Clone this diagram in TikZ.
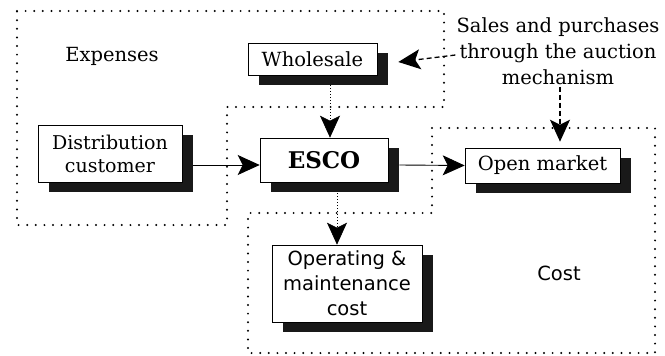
\documentclass[tikz,border=0pt]{standalone}
\usepackage{fontspec}
\setmainfont{DejaVu Serif}
\setsansfont{DejaVu Sans}
\usetikzlibrary{shadows,arrows.meta,calc}
\begin{document}
\begin{tikzpicture}[x=1pt,y=-1pt,
  txt/.style={font=\fontsize{19.5}{25}\selectfont, inner sep=0pt},
  box/.style={draw=black, line width=0.6pt, fill=white, inner sep=0pt, align=center,
    font=\fontsize{19.5}{24}\selectfont,
    general shadow={fill=black!90, shadow xshift=11pt, shadow yshift=-10pt}},
  region/.style={line width=2.2pt, line cap=round, dash pattern=on 0pt off 8.6pt},
  arr/.style={-{Stealth[length=22pt,width=20pt,inset=5pt]}, line width=0.9pt},
  dotarr/.style={arr, line width=0.7pt, dash pattern=on 1pt off 2pt},
  dasharr/.style={arr, line width=1.3pt, dash pattern=on 5pt off 3pt}]
\useasboundingbox (0,0) rectangle (665,356);
% regions
\draw[region] (17,11) -- (444,11) -- (444,107) -- (227,107) -- (227,225) -- (17,225) -- cycle;
\draw[region] (432,128) -- (655,128) -- (655,353) -- (248,353) -- (248,213) -- (432,213) -- cycle;
% labels
\node[txt] (expenses) at (112,56) {Expenses};
\node[txt, font=\sffamily\fontsize{19.5}{25}\selectfont] (cost) at (559,273) {Cost};
\node[txt, align=center, font=\fontsize{19.5}{26}\selectfont] (sales) at (558,51) {Sales and purchases\\through the auction\\mechanism};
% boxes
\node[box, minimum width=129pt, minimum height=32pt] (whole) at (312.5,59) {Wholesale};
\node[box, minimum width=144pt, minimum height=57pt, font=\fontsize{19}{23}\selectfont] (dist) at (110,153.5) {Distribution\\customer};
\node[box, minimum width=128pt, minimum height=44pt, font=\bfseries\fontsize{23}{27}\selectfont] (esco) at (324,160) {ESCO};
\node[box, minimum width=155pt, minimum height=35pt] (open) at (542.5,165.5) {Open market};
\node[box, minimum width=150pt, minimum height=77pt, font=\sffamily\fontsize{19.5}{25}\selectfont] (oper) at (347,283.5) {Operating \&\\maintenance\\cost};
% connectors
\draw[arr] ($(dist.east)+(11,11.5)$) -- ($(esco.west)+(0,5)$);
\draw[arr] ($(esco.east)+(11,5)$) -- ($(open.west)+(0,0)$);
\draw[dotarr] ($(whole.south)+(17.5,10)$) -- ($(esco.north)+(6,0)$);
\draw[dotarr] ($(esco.south)+(13,11)$) -- ($(oper.north)+(-10,0)$);
\draw[dasharr] ($(sales.west)+(-1,4)$) -- ($(whole.east)+(21,3)$);
\draw[dasharr] ($(sales.south)+(2,2)$) -- ($(open.north)+(17.5,-6)$);
\end{tikzpicture}
\end{document}
